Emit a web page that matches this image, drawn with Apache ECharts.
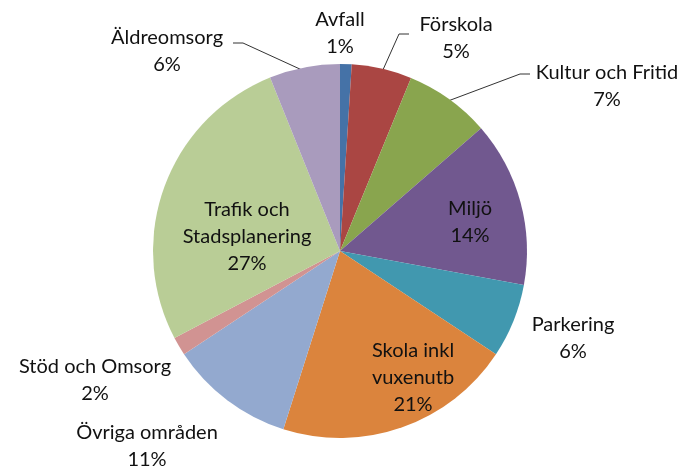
<!DOCTYPE html>
<html>
<head>
<meta charset="utf-8">
<title>pie</title>
<script src="https://cdn.jsdelivr.net/npm/echarts@6/dist/echarts.min.js"></script>
<style>
  html, body { margin: 0; padding: 0; background: #fff; }
  #chart { width: 687px; height: 468px; }
</style>
</head>
<body>
<div id="chart"></div>
<script>
// andelar per område (procent)
var names = ['Avfall', 'Förskola', 'Kultur och Fritid', 'Miljö', 'Parkering',
             'Skola inkl vuxenutb', 'Övriga områden', 'Stöd och Omsorg',
             'Trafik och Stadsplanering', 'Äldreomsorg'];
var values = [1.0, 5.2, 7.4, 14.3, 6.4, 20.6, 10.8, 1.6, 26.6, 6.1];
var labelNames = ['Avfall', 'Förskola', 'Kultur och Fritid', 'Miljö', 'Parkering',
                  'Skola inkl\nvuxenutb', 'Övriga områden', 'Stöd och Omsorg',
                  'Trafik och\nStadsplanering', 'Äldreomsorg'];
var colors = ['#4572A7', '#AA4643', '#89A54E', '#71588F', '#4198AF',
              '#DB843D', '#93A9CF', '#D19392', '#B9CD96', '#A99BBD'];

// var label placering (mitt på textblocket) och ev. ledarlinje
var labelPos = [
  { x: 340, y: 33 },
  { x: 456, y: 38, line: [[382, 72], [399, 34], [409, 34]] },
  { x: 607, y: 86, line: [[448, 101], [520, 74], [530, 74]] },
  { x: 470, y: 222 },
  { x: 573, y: 338 },
  { x: 413, y: 378 },
  { x: 147, y: 446 },
  { x: 95, y: 380 },
  { x: 247, y: 237 },
  { x: 167, y: 51, line: [[302, 70], [243, 43], [233, 43]] }
];
var inside = [3, 5, 8];

var data = [];
for (var i = 0; i < names.length; i++) {
  data.push({
    name: names[i],
    value: values[i],
    itemStyle: { color: colors[i] },
    label: { position: inside.indexOf(i) >= 0 ? 'inside' : 'outside' },
    labelLine: { show: !!labelPos[i].line }
  });
}

var option = {
  backgroundColor: '#fff',
  animation: false,
  series: [{
    type: 'pie',
    center: [340, 251],
    radius: 187,
    startAngle: 90,
    clockwise: true,
    avoidLabelOverlap: false,
    itemStyle: { borderWidth: 0 },
    label: {
      show: true,
      color: '#111',
      fontFamily: 'Lato',
      fontSize: 20,
      lineHeight: 27,
      align: 'center',
      formatter: function (p) {
        return labelNames[p.dataIndex] + '\n' + Math.round(p.percent) + '%';
      }
    },
    labelLine: {
      lineStyle: { color: '#333', width: 1 }
    },
    labelLayout: function (p) {
      var lp = labelPos[p.dataIndex];
      var r = { x: lp.x, y: lp.y, align: 'center', verticalAlign: 'middle' };
      if (lp.line) r.labelLinePoints = lp.line;
      return r;
    },
    data: data
  }]
};

var chart = echarts.init(document.getElementById('chart'));
chart.setOption(option);
</script>
</body>
</html>
